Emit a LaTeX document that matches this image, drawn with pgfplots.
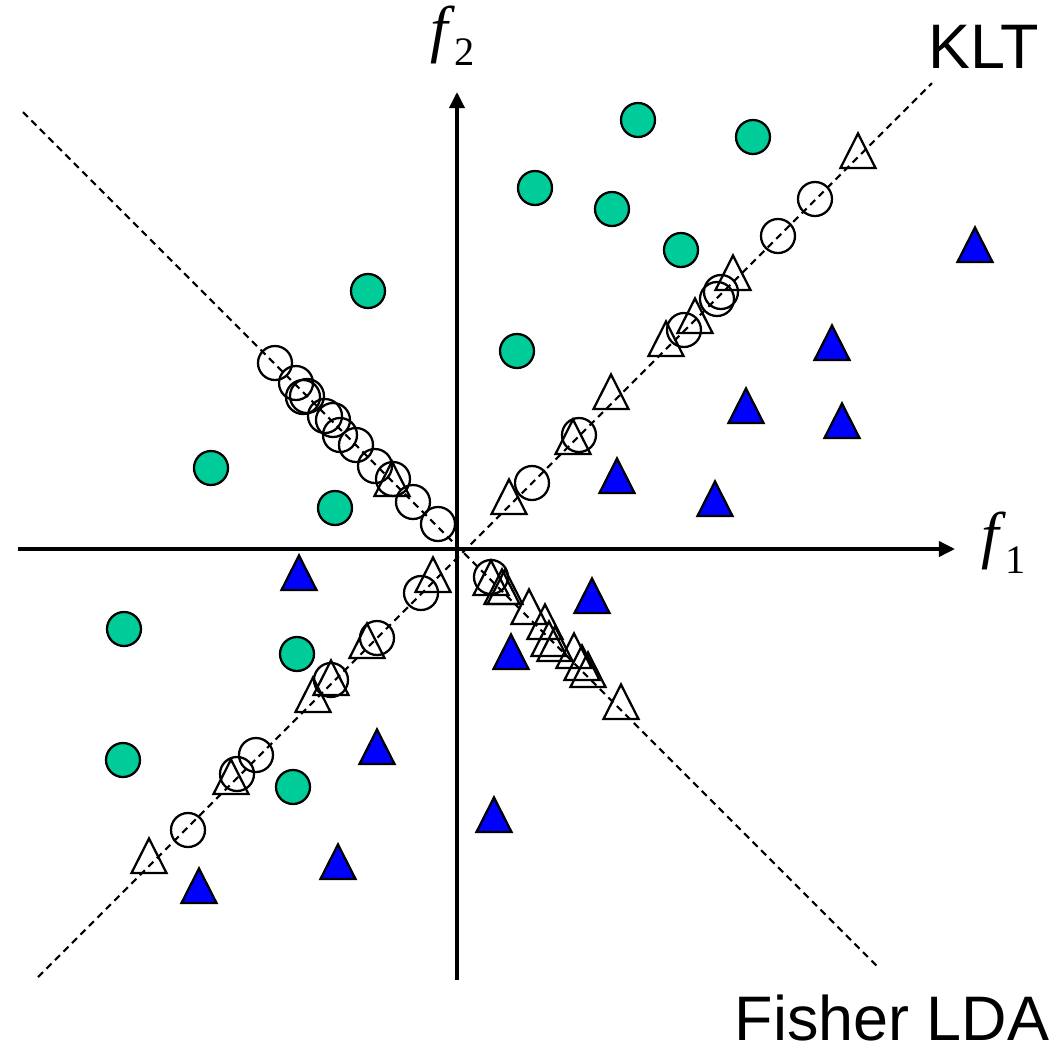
\documentclass[border=0pt]{standalone}
\usepackage{pgfplots}
\pgfplotsset{compat=1.18}
\usetikzlibrary{arrows.meta}
\usepackage{fontspec}
\setmainfont{Liberation Sans}
\newfontfamily\tnr{Liberation Serif}
\definecolor{mgreen}{RGB}{0,204,153}
\definecolor{mblue}{RGB}{0,0,255}
\pgfdeclareplotmark{itri}{%
  \pgfpathmoveto{\pgfpoint{0mm}{1.75mm}}%
  \pgfpathlineto{\pgfpoint{1.75mm}{-1.7mm}}%
  \pgfpathlineto{\pgfpoint{-1.75mm}{-1.7mm}}%
  \pgfpathclose\pgfusepathqstroke}
\pgfdeclareplotmark{itri*}{%
  \pgfpathmoveto{\pgfpoint{0mm}{1.75mm}}%
  \pgfpathlineto{\pgfpoint{1.75mm}{-1.7mm}}%
  \pgfpathlineto{\pgfpoint{-1.75mm}{-1.7mm}}%
  \pgfpathclose\pgfusepathqfillstroke}

\pgfplotstableread{
x y
638 120
753 137
535 188
612 209
681 250
368 291
517 351
211 468
335 508
124 629
297 654
123 760
293 787
}\greenpts

\pgfplotstableread{
x y
975 245
832 343
746 406
842 421
617 476
715 499
592 596
511 652
299 573
377 747
338 862
199 886
494 815
}\bluepts

\pgfplotstableread{
x y
815 199
778 236
721 292
717 299
684 330
579 435
532 483
421 593
377 638
331 680
256 755
237 774
188 830
275 363
296 383
307 396
303 397
325 416
333 420
340 435
356 445
375 466
393 479
413 502
438 524
491 577
}\hollowcirc

\pgfplotstableread{
x y
858 151
733 273
695 316
666 339
611 392
573 437
509 497
433 575
367 641
331 678
313 695
231 777
149 856
392 479
491 578
502 587
505 587
529 607
545 622
549 639
555 644
574 651
582 663
588 670
621 702
}\hollowtri

\begin{document}
\begin{tikzpicture}
\begin{axis}[name=ax,
  hide axis, scale only axis, width=10.61cm, height=10.47cm,
  xmin=0, xmax=1061, ymin=0, ymax=1047, y dir=reverse, clip=false]
% dashed projection lines
\addplot[black, line width=0.6pt, dash pattern=on 0.7mm off 0.5mm] coordinates {(38,977) (932,83)};
\addplot[black, line width=0.6pt, dash pattern=on 0.7mm off 0.5mm] coordinates {(23,112) (878,967)};
% axes
\addplot[black, line width=1pt, -{Triangle[length=1.6mm,width=1.5mm]}] coordinates {(18,549) (955,549)};
\addplot[black, line width=1pt, -{Triangle[length=1.6mm,width=1.5mm]}] coordinates {(457,980) (457,92)};
% points
\addplot[only marks, mark=*, mark size=1.7mm, draw=black, fill=mgreen, line width=0.65pt] table {\greenpts};
\addplot[only marks, mark=itri*, draw=black, fill=mblue, line width=0.65pt] table {\bluepts};
\addplot[only marks, mark=o, mark size=1.7mm, draw=black, line width=0.65pt] table {\hollowcirc};
\addplot[only marks, mark=itri, draw=black, line width=0.65pt] table {\hollowtri};
% labels
\node[anchor=base west, inner sep=0pt] at (axis cs:928,68) {\fontsize{17.9}{20}\selectfont KLT};
\node[anchor=base west, inner sep=0pt] at (axis cs:734,1040) {\fontsize{17.9}{20}\selectfont Fisher LDA};
\node[anchor=base west, inner sep=0pt] at (axis cs:430,50) {{\tnr\fontsize{18}{20}\selectfont\itshape f}\hspace{0.6mm}\raisebox{-1.5mm}{\tnr\fontsize{11.5}{13}\selectfont 2}};
\node[anchor=base west, inner sep=0pt] at (axis cs:981,556) {{\tnr\fontsize{18}{20}\selectfont\itshape f}\hspace{0.6mm}\raisebox{-1.7mm}{\tnr\fontsize{11.5}{13}\selectfont 1}};
\end{axis}
\pgfresetboundingbox
\path[use as bounding box] (ax.south west) rectangle (ax.north east);
\end{tikzpicture}
\end{document}
